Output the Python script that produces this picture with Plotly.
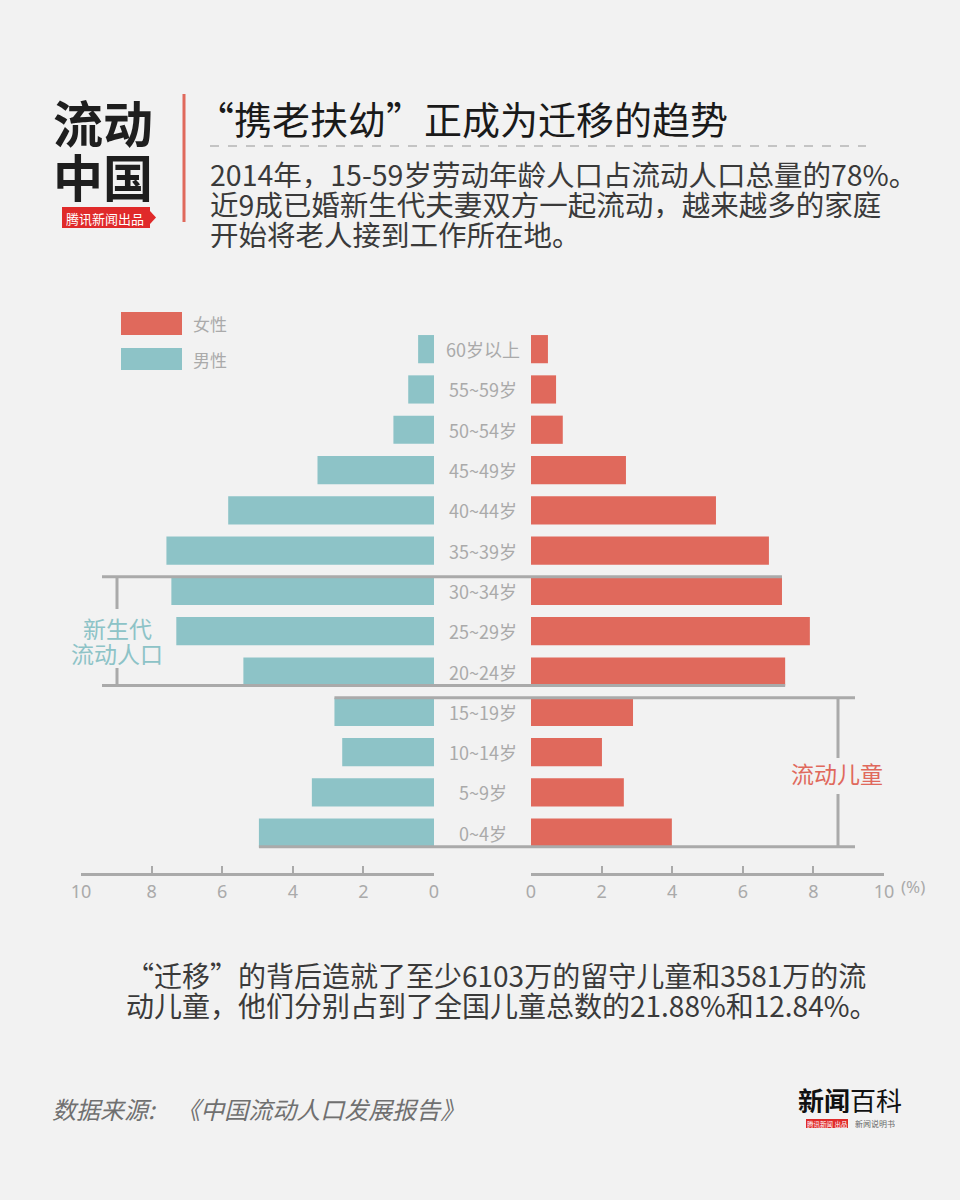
import plotly.graph_objects as go

# ---------------- data ----------------
age_groups = ["0~4岁", "5~9岁", "10~14岁", "15~19岁", "20~24岁", "25~29岁", "30~34岁",
              "35~39岁", "40~44岁", "45~49岁", "50~54岁", "55~59岁", "60岁以上"]
male_pct = [4.96, 3.46, 2.60, 2.82, 5.40, 7.30, 7.44, 7.58, 5.83, 3.30, 1.15, 0.73, 0.45]
female_pct = [3.99, 2.63, 2.01, 2.89, 7.20, 7.90, 7.11, 6.74, 5.24, 2.69, 0.90, 0.71, 0.48]
tick_values = [0, 2, 4, 6, 8, 10]
tick_labels = ["0", "2", "4", "6", "8", "10"]

title_text = "“携老扶幼”正成为迁移的趋势"
intro_lines = ["2014年，15-59岁劳动年龄人口占流动人口总量的78%。",
               "近9成已婚新生代夫妻双方一起流动，越来越多的家庭",
               "开始将老人接到工作所在地。"]
bottom_lines = ["“迁移”的背后造就了至少6103万的留守儿童和3581万的流",
                "动儿童，他们分别占到了全国儿童总数的21.88%和12.84%。"]
source_text = "数据来源:    《中国流动人口发展报告》"

# ---------------- style ----------------
W, H = 960, 1200
BG = "#f2f2f2"
RED = "#e0695c"
TEAL = "#8dc3c7"
GRAY = "#aaaaaa"
FONT = "Noto Sans CJK SC"


def px(x):
    return x / W


def py(y):
    return 1 - y / H


left_dom = [px(81), px(434)]
right_dom = [px(531), px(884)]
y_dom = [py(873), py(329)]
y_range = [-1, 12.5]


def fx(v):
    return right_dom[0] + v / 10 * (right_dom[1] - right_dom[0])


def mx(v):
    return left_dom[1] - v / 10 * (left_dom[1] - left_dom[0])


def yv(ypix):
    top, bot = 329, 873
    return y_range[0] + (bot - ypix) / (bot - top) * (y_range[1] - y_range[0])


def note(x, y, text, size, color, xanchor="center", family=FONT, xref="paper", yref="paper",
         height=None):
    d = dict(x=x, y=y, xref=xref, yref=yref, text=text, showarrow=False,
             xanchor=xanchor, yanchor="middle",
             font=dict(family=family, size=size, color=color))
    if height is not None:
        d["height"] = height
    return d


fig = go.Figure()
fig.add_trace(go.Bar(x=male_pct, y=age_groups, orientation="h", xaxis="x", yaxis="y",
                     marker=dict(color=TEAL, line=dict(width=0)), width=0.7, name="男性",
                     showlegend=False, hoverinfo="x+y"))
fig.add_trace(go.Bar(x=female_pct, y=age_groups, orientation="h", xaxis="x2", yaxis="y",
                     marker=dict(color=RED, line=dict(width=0)), width=0.7, name="女性",
                     showlegend=False, hoverinfo="x+y"))

axis_common = dict(tickvals=tick_values, ticktext=tick_labels, ticks="inside", ticklen=7,
                   tickwidth=2, tickcolor=GRAY, showline=True, linecolor=GRAY, linewidth=3,
                   showgrid=False, zeroline=False, anchor="y", automargin=False,
                   tickfont=dict(family="Noto Sans", size=18, color=GRAY), fixedrange=True)

shapes = []
annotations = []

# center age labels
for g in age_groups:
    annotations.append(note(px(483), g, g, 18, GRAY, yref="y"))

line_style = dict(color=GRAY, width=3)
i3034 = age_groups.index("30~34岁")
i2024 = age_groups.index("20~24岁")
i1519 = age_groups.index("15~19岁")
i0004 = age_groups.index("0~4岁")
half = 0.35
# 新生代 bracket
shapes += [
    dict(type="line", xref="paper", yref="y", x0=px(102), x1=fx(female_pct[i3034]),
         y0=i3034 + half, y1=i3034 + half, line=line_style),
    dict(type="line", xref="paper", yref="y", x0=px(102), x1=fx(female_pct[i2024]),
         y0=i2024 - half, y1=i2024 - half, line=line_style),
    dict(type="line", xref="paper", yref="y", x0=px(117), x1=px(117),
         y0=i3034 + half, y1=yv(609), line=line_style),
    dict(type="line", xref="paper", yref="y", x0=px(117), x1=px(117),
         y0=yv(668), y1=i2024 - half, line=line_style),
]
# 流动儿童 bracket
shapes += [
    dict(type="line", xref="paper", yref="y", x0=mx(male_pct[i1519]), x1=px(855),
         y0=i1519 + half, y1=i1519 + half, line=line_style),
    dict(type="line", xref="paper", yref="y", x0=mx(male_pct[i0004]), x1=px(855),
         y0=i0004 - half, y1=i0004 - half, line=line_style),
    dict(type="line", xref="paper", yref="y", x0=px(838), x1=px(838),
         y0=i1519 + half, y1=yv(758), line=line_style),
    dict(type="line", xref="paper", yref="y", x0=px(838), x1=px(838),
         y0=yv(794), y1=i0004 - half, line=line_style),
]
annotations += [
    note(px(117), py(627), "新生代", 23, TEAL, height=25),
    note(px(117), py(652), "流动人口", 23, TEAL, height=25),
    note(px(837), py(773), "流动儿童", 23, RED),
    note(px(899), py(886), "(%)", 17, GRAY, xanchor="left", family="Noto Sans"),
]

# legend
shapes += [
    dict(type="rect", xref="paper", yref="paper", x0=px(121), x1=px(182), y0=py(312), y1=py(335),
         fillcolor=RED, line=dict(width=0)),
    dict(type="rect", xref="paper", yref="paper", x0=px(121), x1=px(182), y0=py(348), y1=py(370),
         fillcolor=TEAL, line=dict(width=0)),
]
annotations += [
    note(px(191), py(323), "女性", 17, GRAY, xanchor="left"),
    note(px(191), py(359), "男性", 17, GRAY, xanchor="left"),
]

# header: logo
annotations += [
    note(px(103), py(121), "<b>流动</b>", 50, "#1e1e1e", height=54),
    note(px(103), py(175), "<b>中国</b>", 50, "#1e1e1e", height=54),
]
shapes += [
    dict(type="rect", xref="paper", yref="paper", x0=px(62), x1=px(150), y0=py(207), y1=py(228),
         fillcolor="#e02a2a", line=dict(width=0)),
    dict(type="path", xref="paper", yref="paper",
         path=f"M {px(150)} {py(211)} L {px(156)} {py(217.5)} L {px(150)} {py(224)} Z",
         fillcolor="#e02a2a", line=dict(width=0)),
    dict(type="line", xref="paper", yref="paper", x0=px(184), x1=px(184), y0=py(94), y1=py(222),
         line=dict(color=RED, width=3)),
    dict(type="line", xref="paper", yref="paper", x0=px(210), x1=px(866), y0=py(146), y1=py(146),
         line=dict(color="#b5b5b5", width=1.5, dash="dash")),
]
annotations += [
    note(px(105), py(217.5), "腾讯新闻出品", 13, "white", height=18),
    note(px(194), py(117), title_text, 38, "#1a1a1a", xanchor="left", height=44),
]
for k, line in enumerate(intro_lines):
    annotations.append(note(px(208), py(173 + 30 * k), line, 28.5, "#3a3a3a", xanchor="left",
                            height=30))
for k, line in enumerate(bottom_lines):
    annotations.append(note(px(124), py(975 + 30 * k), line, 28, "#3a3a3a", xanchor="left",
                            height=30))
annotations.append(note(px(50), py(1108), f"<i>{source_text}</i>", 24, "#707070", xanchor="left"))

# footer logo
shapes.append(dict(type="rect", xref="paper", yref="paper", x0=px(806), x1=px(848), y0=py(1119),
                   y1=py(1128), fillcolor="#e02a2a", line=dict(width=0)))
annotations += [
    note(px(850), py(1099), "<b>新闻</b>百科", 26, "#111111", height=28),
    note(px(827), py(1123.5), "腾讯新闻 出品", 6.5, "white", height=9),
    note(px(853), py(1123.5), "新闻说明书", 8, "#666666", xanchor="left", height=9),
]

fig.update_layout(
    width=W, height=H, margin=dict(l=0, r=0, t=0, b=0, autoexpand=False),
    paper_bgcolor=BG, plot_bgcolor=BG, showlegend=False, bargap=0.3,
    font=dict(family=FONT),
    xaxis=dict(domain=left_dom, range=[10, 0], **axis_common),
    xaxis2=dict(domain=right_dom, range=[0, 10], **axis_common),
    yaxis=dict(domain=y_dom, range=y_range, type="category", categoryorder="array",
               categoryarray=age_groups, visible=False, fixedrange=True, automargin=False),
    shapes=shapes, annotations=annotations,
)

fig.write_html("out.html", config={"displayModeBar": False},
               post_script="document.body.style.margin='0';document.body.style.overflow='hidden';")
